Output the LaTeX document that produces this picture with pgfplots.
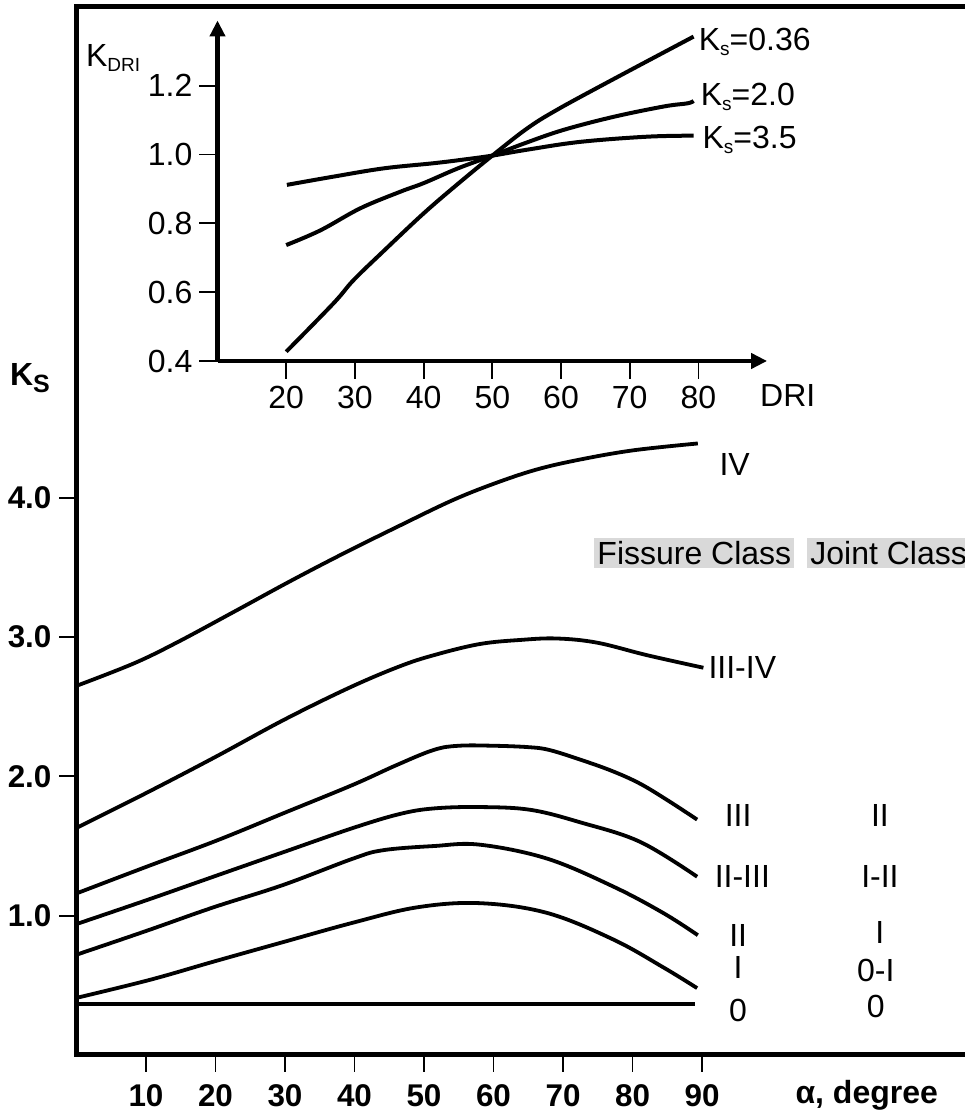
\documentclass[border=0pt]{standalone}
\usepackage{fontspec}
\setmainfont{Liberation Sans}
\usepackage{pgfplots}
\pgfplotsset{compat=1.18}
\usetikzlibrary{arrows.meta}

\begin{document}
\begin{tikzpicture}[font=\fontsize{16}{19}\selectfont]
\begin{axis}[
  at={(0,0)}, anchor=south west, scale only axis,
  x=3.475pt, y=69.65pt,
  xmin=0, xmax=127.7, ymin=0, ymax=7.53,
  axis x line*=bottom, axis y line*=left,
  axis line style={line width=2.5pt, -, line cap=rect},
  xtick={10,20,30,40,50,60,70,80,90}, ytick={1,2,3,4},
  xticklabels={10,20,30,40,50,60,70,80,90},
  yticklabels={1.0,2.0,3.0,4.0},
  ticklabel style={font=\bfseries\fontsize{15.7}{19}\selectfont},
  xticklabel style={yshift=-3pt},
  yticklabel style={xshift=-0.5pt},
  tick align=outside, major tick length=8.5pt,
  tick style={line width=0.9pt, black},
  clip=false, no marks,
  cycle list={{black,solid}},
  every axis plot/.append style={line width=1.9pt, black, solid, smooth, tension=0.6},
]
% IV
\addplot coordinates {(0,2.65) (8.2,2.81) (14.4,2.96) (22.6,3.18) (30.7,3.40) (38.4,3.60) (46.5,3.80) (54,3.98) (60,4.10) (66,4.20) (72,4.27) (80,4.34) (89.4,4.39)};
% III-IV
\addplot coordinates {(0,1.63) (10,1.88) (20,2.14) (30,2.41) (39.4,2.64) (46.5,2.79) (51.4,2.87) (58,2.95) (64,2.98) (69.1,2.99) (74.9,2.96) (82.1,2.87) (90.2,2.78)};
% III
\addplot coordinates {(0,1.16) (10,1.35) (20.2,1.54) (30,1.74) (39.8,1.94) (46,2.08) (51.4,2.19) (55,2.22) (60,2.22) (65,2.21) (68,2.19) (72.5,2.12) (77,2.04) (81,1.95) (85,1.83) (89.3,1.69)};
% II-III
\addplot coordinates {(0,0.94) (10,1.11) (19.7,1.28) (30,1.46) (39.8,1.63) (46.5,1.73) (51.4,1.77) (58,1.78) (65.3,1.76) (72.5,1.67) (81.1,1.53) (89.3,1.28)};
% II
\addplot coordinates {(0,0.72) (10,0.89) (19.7,1.06) (29.7,1.22) (39.8,1.41) (44.1,1.47) (51.4,1.50) (58,1.51) (67.7,1.41) (77.2,1.21) (84.4,1.02) (89.4,0.86)};
% I
\addplot coordinates {(0,0.41) (10.6,0.54) (19.7,0.67) (29.7,0.81) (39.8,0.95) (49,1.06) (58,1.09) (67.7,1.02) (77.2,0.83) (84.4,0.63) (89.3,0.48)};
% 0
\addplot coordinates {(0,0.366) (89,0.366)};

\draw[line width=2.5pt, line cap=rect] (rel axis cs:0,1) -- (rel axis cs:1,1);

\node at (axis cs:94.7,4.24) {IV};
\node at (axis cs:95.8,2.78) {III-IV};
\node at (axis cs:95.2,1.72) {III};
\node at (axis cs:95.8,1.28) {II-III};
\node at (axis cs:95.2,0.86) {II};
\node at (axis cs:95.2,0.63) {I};
\node at (axis cs:95.2,0.32) {0};
\node at (axis cs:115.6,1.72) {II};
\node at (axis cs:115.6,1.28) {I-II};
\node at (axis cs:115.6,0.88) {I};
\node at (axis cs:115,0.61) {0-I};
\node at (axis cs:115,0.345) {0};
\node[fill=black!15, inner sep=1.5pt] at (axis cs:88.9,3.604) {Fissure Class};
\node[fill=black!15, inner sep=1.5pt, anchor=west] at (axis cs:105.1,3.604) {Joint Class};
\node at (axis cs:113.7,-0.29) {\bfseries α, degree};
\node at (axis cs:-6.7,4.86) {\bfseries K\raisebox{-0.2em}{\fontsize{12.5}{12}\selectfont S}};
\end{axis}

\begin{axis}[
  at={(70.5pt,347pt)}, anchor=south west, scale only axis,
  x=3.435pt, y=172pt,
  xmin=10, xmax=90, ymin=0.4, ymax=1.39,
  axis x line*=bottom, axis y line*=left,
  axis line style={line width=2.3pt, -{Triangle[length=8pt,width=7.5pt]}},
  xtick={20,30,40,50,60,70,80}, ytick={0.4,0.6,0.8,1.0,1.2},
  xticklabels={20,30,40,50,60,70,80},
  yticklabels={0.4,0.6,0.8,1.0,1.2},
  ticklabel style={font=\fontsize{16}{19}\selectfont},
  tick align=outside, major tick length=9pt,
  tick style={line width=0.9pt, black},
  clip=false, no marks,
  cycle list={{black,solid}},
  every axis plot/.append style={line width=2pt, black, solid, smooth, tension=0.6},
]
\addplot coordinates {(20,0.427) (26.9,0.568) (29.8,0.635) (34.2,0.72) (40,0.829) (45,0.915) (50,0.997) (55,1.075) (59.4,1.13) (67.7,1.22) (79.3,1.343)};
\addplot coordinates {(20,0.737) (25,0.78) (30.8,0.844) (36.6,0.892) (40,0.917) (45,0.96) (50,0.997) (55,1.035) (60.4,1.072) (67.7,1.11) (75,1.14) (78.4,1.149) (79.3,1.156)};
\addplot coordinates {(20.1,0.912) (26.9,0.936) (34.2,0.96) (41.5,0.975) (46,0.986) (50,0.997) (55,1.014) (62.8,1.037) (72.5,1.052) (79.3,1.055)};
\node[anchor=west, inner sep=0pt] at (axis cs:80.0,1.327) {K\raisebox{-0.15em}{\fontsize{9.5}{9}\selectfont s}=0.36};
\node[anchor=west, inner sep=0pt] at (axis cs:80.3,1.167) {K\raisebox{-0.15em}{\fontsize{9.5}{9}\selectfont s}=2.0};
\node[anchor=west, inner sep=0pt] at (axis cs:80.55,1.042) {K\raisebox{-0.15em}{\fontsize{9.5}{9}\selectfont s}=3.5};
\node at (axis cs:-5.2,1.28) {K\raisebox{-0.15em}{\fontsize{9.5}{9}\selectfont DRI}};
\node at (axis cs:93,0.301) {DRI};
\end{axis}

\pgfresetboundingbox
\path[use as bounding box] (-38.25pt,-29pt) rectangle (443.75pt,527.5pt);
\end{tikzpicture}
\end{document}
